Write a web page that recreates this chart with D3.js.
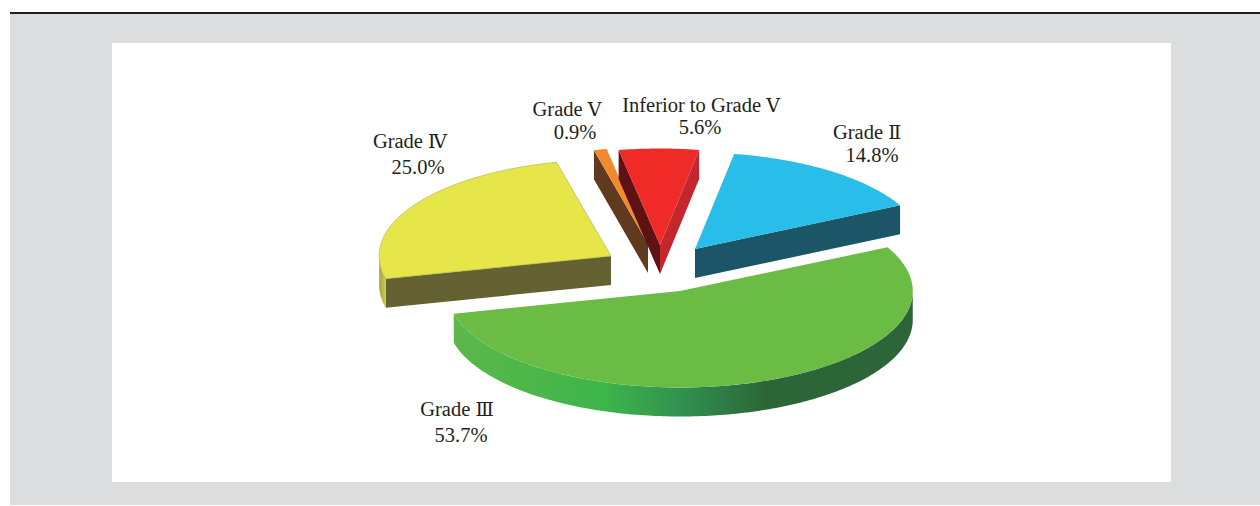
<!DOCTYPE html>
<html>
<head>
<meta charset="utf-8">
<script src="https://cdn.jsdelivr.net/npm/d3@7/dist/d3.min.js"></script>
<style>
html,body{margin:0;padding:0;background:#fff;}
svg{display:block;}
text{font-family:"Liberation Serif",serif;font-size:20.5px;fill:#231f20;}
tspan.num{font-family:"DejaVu Serif",serif;font-size:19px;font-weight:200;}
</style>
</head>
<body>
<svg id="chart" width="1260" height="506"></svg>
<script>
// Data, clockwise from the top of the pie
const categories = ["Grade", "Grade", "Grade", "Grade", "Inferior to Grade"];
const grades = ["Ⅱ", "Ⅲ", "Ⅳ", "Ⅴ", "Ⅴ"];
const percents = [14.8, 53.7, 25.0, 0.9, 5.6];
const percentLabels = ["14.8%", "53.7%", "25.0%", "0.9%", "5.6%"];

// Styles
const topColors = ["#29bde9", "#6bbc45", "#e6e54a", "#f08a2c", "#ef2a27"];
const edgeColors = [null, null, "#b9b84e", null, null];
const startWallColors = [null, null, "#646232", "#5f3a1e", "#5e1214"];
const endWallColors = ["#1d5568", null, null, null, "#c1272d"];

// Layout
const W = 1260, H = 506;
const centre = {x: 660, y: 268};
const radiusX = 230, radiusY = 96.5, depth = 29;
const explode = [[35, -19], [20, 23], [-49, -12], [-12, -24], [0, -23]];
const widen = [1, 1.012, 1.008, 1, 1];
const labelAnchors = [[867, 139, 872, 162], [457, 416, 461, 442], [410, 148, 418, 174], [567, 116, 575, 139], [701, 112, 700, 134]];
const startDeg = 9.8;

const svg = d3.select("#chart");
svg.append("rect").attr("x", 10).attr("y", 13).attr("width", W - 10).attr("height", 492).attr("fill", "#dcddde");
svg.append("rect").attr("x", 10).attr("y", 12).attr("width", W - 10).attr("height", 2).attr("fill", "#231f20");
svg.append("rect").attr("x", 112).attr("y", 43).attr("width", 1059).attr("height", 439).attr("fill", "#fff");

const defs = svg.append("defs");
const rimGrad = defs.append("linearGradient").attr("id", "rimGreen").attr("gradientUnits", "userSpaceOnUse")
  .attr("x1", 454).attr("x2", 912).attr("y1", 0).attr("y2", 0);
[[0, "#5cb84a"], [0.33, "#3cb54a"], [0.5, "#319050"], [0.68, "#2c6638"], [1, "#2c6638"]]
  .forEach(([o, c]) => rimGrad.append("stop").attr("offset", o).attr("stop-color", c));
const rimYellow = defs.append("linearGradient").attr("id", "rimYellow").attr("gradientUnits", "userSpaceOnUse")
  .attr("x1", 380).attr("x2", 387).attr("y1", 0).attr("y2", 0);
[[0, "#a9a83f"], [1, "#d6d548"]].forEach(([o, c]) => rimYellow.append("stop").attr("offset", o).attr("stop-color", c));
const rimFills = [null, "url(#rimGreen)", "url(#rimYellow)", null, null];

const pie = d3.pie().sort(null).value(d => d)
  .startAngle(startDeg * Math.PI / 180)
  .endAngle(startDeg * Math.PI / 180 + 2 * Math.PI);
const arcs = pie(percents);

const sx = d3.scaleLinear().domain([-1, 1]).range([-radiusX, radiusX]);
const sy = d3.scaleLinear().domain([-1, 1]).range([-radiusY, radiusY]);
const line = d3.line();
const poly = pts => line(pts) + "Z";
const samples = (a0, a1) => {
  const n = Math.max(2, Math.ceil((a1 - a0) * 60));
  return d3.range(n + 1).map(i => a0 + (a1 - a0) * i / n);
};

// painter's order: back slivers first
const order = [3, 4, 2, 0, 1];
order.forEach(i => {
  const d = arcs[i];
  const [ox, oy] = explode[i];
  const px = a => centre.x + ox + sx(Math.sin(a)) * widen[i];
  const py = a => centre.y + oy + sy(-Math.cos(a));
  const g = svg.append("g").attr("class", "slice");
  const ax = centre.x + ox, ay = centre.y + oy;
  const A = [px(d.startAngle), py(d.startAngle)];
  const B = [px(d.endAngle), py(d.endAngle)];
  const wall = (p, color) => g.append("path")
    .attr("d", poly([p, [ax, ay], [ax, ay + depth], [p[0], p[1] + depth]]))
    .attr("fill", color);
  // radial walls
  if (startWallColors[i]) wall(A, startWallColors[i]);
  if (endWallColors[i]) wall(B, endWallColors[i]);
  // outer rim: only the part facing the viewer
  const lo = Math.max(d.startAngle, Math.PI / 2), hi = Math.min(d.endAngle, 3 * Math.PI / 2);
  if (hi > lo && rimFills[i]) {
    const top = samples(lo, hi).map(a => [px(a), py(a)]);
    const bottom = top.slice().reverse().map(p => [p[0], p[1] + depth]);
    g.append("path").attr("d", poly(top.concat(bottom))).attr("fill", rimFills[i]);
  }
  // top face
  const rim = samples(d.startAngle, d.endAngle).map(a => [px(a), py(a)]);
  g.append("path").attr("d", poly([[ax, ay]].concat(rim))).attr("fill", topColors[i])
    .attr("stroke", edgeColors[i] || "none").attr("stroke-width", 0.7);
});

// labels
categories.forEach((c, i) => {
  const [x1, y1, x2, y2] = labelAnchors[i];
  const t = svg.append("text").attr("x", x1).attr("y", y1).attr("text-anchor", "middle");
  t.append("tspan").text(c + " ");
  t.append("tspan").attr("class", "num").text(grades[i]);
  svg.append("text").attr("x", x2).attr("y", y2).attr("text-anchor", "middle").text(percentLabels[i]);
});
</script>
</body>
</html>
